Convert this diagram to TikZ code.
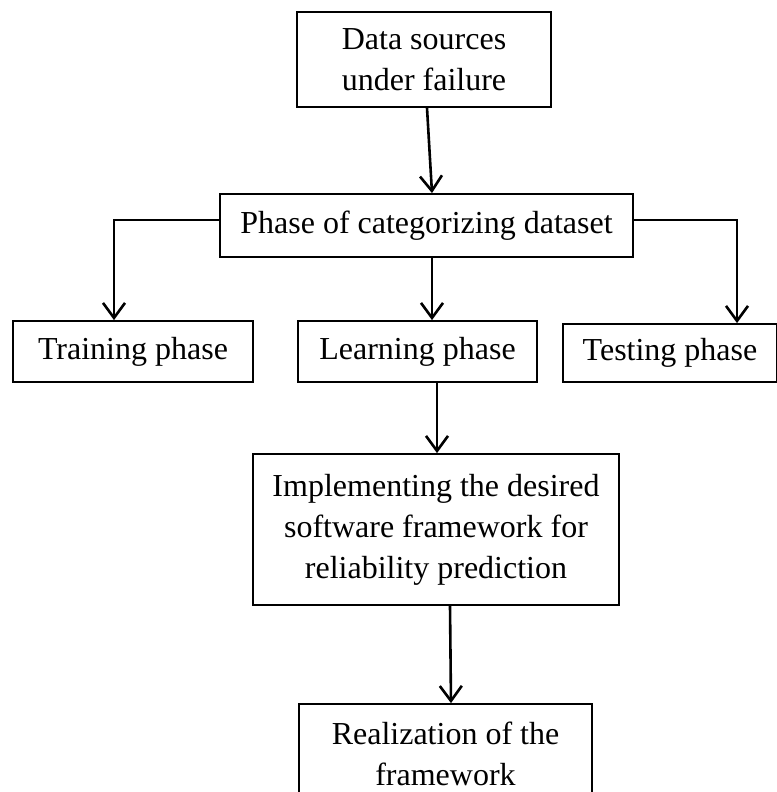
\documentclass[tikz,border=0pt]{standalone}
\usepackage{fontspec}
\setmainfont{Liberation Serif}
\usetikzlibrary{arrows.meta}
\begin{document}
\begin{tikzpicture}[x=1pt,y=-1pt,
  box/.style={draw,line width=1.8pt,inner sep=0pt,align=center,
    font=\fontsize{32}{41}\selectfont},
  conn/.style={line width=2.6pt,-{Straight Barb[length=15pt,width=22pt,line width=2.6pt]}}]
\useasboundingbox (0,0) rectangle (776,792);
\node[box,minimum width=254pt,minimum height=95pt] (b1) at (424,59.5) {Data sources\\under failure};
\node[box,minimum width=413pt,minimum height=63pt] (b2) at (426.5,225.5) {Phase of categorizing dataset};
\node[box,minimum width=240pt,minimum height=61pt] (train) at (133,351.5) {Training phase};
\node[box,minimum width=239pt,minimum height=61pt] (learn) at (417.5,351.5) {Learning phase};
\node[box,minimum width=214pt,minimum height=58pt] (test) at (670,353) {Testing phase};
\node[box,minimum width=366pt,minimum height=151pt] (impl) at (436,529.5) {Implementing the desired\\software framework for\\reliability prediction};
\node[box,minimum width=293pt,minimum height=100pt] (real) at (445.5,754) {Realization of the\\framework};
\draw[conn] ([xshift=3pt]b1.south) -- ([xshift=5.5pt]b2.north);
\draw[conn] ([yshift=5.5pt]b2.west) -| ([xshift=-19pt]train.north);
\draw[conn] ([yshift=5.5pt]b2.east) -| ([xshift=67pt]test.north);
\draw[conn] ([xshift=5.5pt]b2.south) -- ([xshift=14.5pt]learn.north);
\draw[conn] ([xshift=19.5pt]learn.south) -- ([xshift=1pt]impl.north);
\draw[conn] ([xshift=14pt]impl.south) -- ([xshift=5.5pt]real.north);
\end{tikzpicture}
\end{document}
